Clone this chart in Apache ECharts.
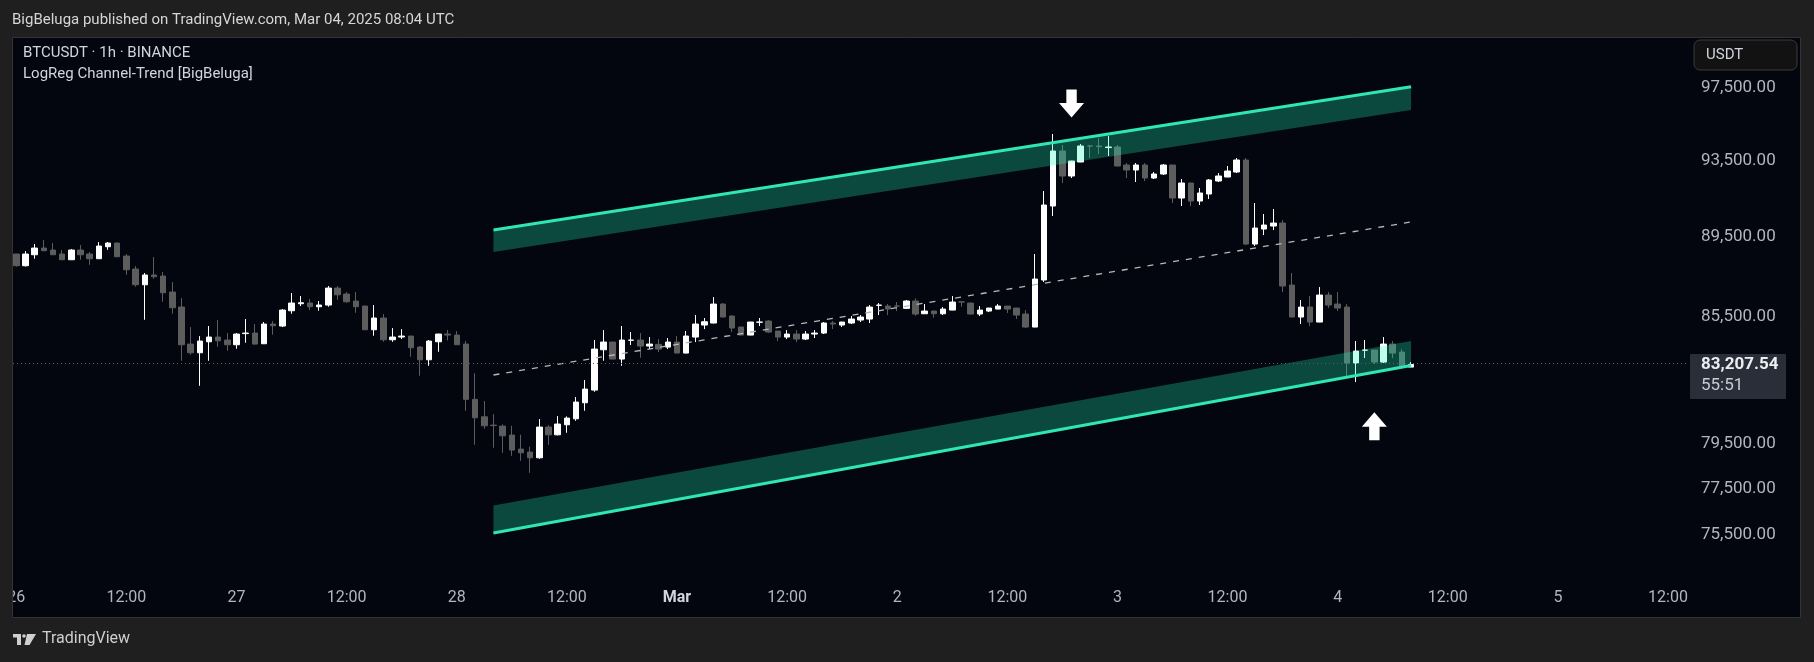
<!DOCTYPE html>
<html>
<head>
<meta charset="utf-8">
<title>BTCUSDT 1h - LogReg Channel-Trend</title>
<script src="https://cdn.jsdelivr.net/npm/echarts@6/dist/echarts.min.js"></script>
<style>
  html, body { margin: 0; padding: 0; background: #1f1f1f; }
  #chart { width: 1814px; height: 662px; }
</style>
</head>
<body>
<div id="chart"></div>
<script>
// hourly candles, first one is Feb 26 00:00 UTC
const opens = [88635,88044,88599,88939,88837,88635,88346,88837,88635,88397,89006,89194,88533,87877,87091,87577,87526,86728,85987,84185,
  83768,84296,84524,84378,84152,84690,84717,84200,85155,85058,85805,86150,86184,86002,86085,86926,86629,86283,86035,84878,
  85448,84393,84524,84572,84040,83432,84296,84669,84620,84185,81564,80755,80370,80326,79914,79276,79141,78883,80281,79927,
  80387,80663,81405,81998,83911,84282,83466,84370,84378,84089,84170,84040,84282,83753,84524,85106,85204,86134,85546,85009,
  84620,85245,85301,84814,84524,84669,84426,84669,84717,85204,85106,85204,85350,85399,86070,86035,86040,85922,86283,85658,
  85790,85658,85839,86240,86184,85643,85790,85888,86035,85937,85643,85009,87326,91103,94016,92681,93426,94290,94286,94200,
  94232,93266,92999,93266,92575,92787,93266,91521,92310,91363,91731,92416,92628,92893,93533,89143,89911,90066,90221,87076,
  85497,85986,85252,86579,86134,85986,83275,83890,83897,83323,84185,83801,83084];
const closes = [88044,88635,88939,88802,88599,88346,88837,88599,88397,89041,89194,88498,87842,87091,87577,87492,86693,85952,84152,83768,
  84330,84524,84344,84152,84669,84717,84185,85155,85072,85839,86184,86199,86002,86085,86926,86594,86248,86002,84878,85448,
  84393,84524,84572,84007,83432,84330,84669,84620,84152,81564,80709,80340,80350,79882,79231,79109,78883,80281,79927,80420,
  80695,81438,82045,83945,84282,83466,84378,84378,84089,84185,83945,84282,83753,84572,85155,85267,86134,85497,84960,84620,
  85252,85252,84765,84524,84669,84426,84669,84717,85204,85155,85252,85399,85497,85986,86085,85888,86035,86283,85643,85790,
  85658,85888,86233,86233,85643,85839,85937,86035,85888,85594,85009,87376,91155,94016,92681,93480,94286,94286,94250,94232,
  93212,92999,93266,92575,92787,93266,91521,92310,91363,91784,92469,92681,92946,93533,89143,89963,90118,90221,87026,85497,
  85986,85252,86579,86085,85937,83275,83849,83897,83323,84185,83753,83084,83207.54];
const lows = [88000,88000,88397,88780,88590,88340,88340,88346,88094,88390,88850,88480,87592,86991,85365,87392,86248,85658,83385,83672,
  82200,83385,84055,83863,83960,84248,84152,84190,84635,85009,85658,86035,85839,85805,86002,86347,86199,85707,84860,84587,
  84296,84296,84426,83576,82672,83147,83815,84363,84140,81033,79472,80203,79335,79109,78973,78748,78208,78838,79472,79900,
  80020,80570,81033,81918,83385,83460,83147,84137,83530,83945,83801,83945,83740,83740,84282,84911,85190,85490,84765,84610,
  84610,85058,84717,84330,84426,84282,84378,84475,84669,84911,85009,85155,85252,85204,85594,85594,85790,85900,85560,85650,
  85462,85594,85830,86002,85630,85545,85740,85880,85692,85399,84960,85000,87226,90583,92310,92575,93420,93640,93855,93748,
  93200,92575,92363,92416,92522,92733,91258,91103,91103,91155,91468,92363,92620,92840,89092,89041,89603,89860,86728,85490,
  85155,85058,85245,85937,85790,82610,82375,83514,83228,83275,83514,83080,83084];
const highs = [88650,88786,89143,89347,89194,88837,88888,89092,88736,89245,89245,89210,88635,88028,87677,88482,87727,87226,86431,85009,
  84570,85058,85350,84717,84717,85399,85155,85252,85301,85888,86678,86530,86381,86283,87026,87026,86728,86728,86050,86085,
  85643,84960,84911,84580,84088,84378,84680,84863,84814,84330,82786,81485,80880,80405,80340,79928,79381,80649,80372,80788,
  80774,81671,82469,84378,84863,84290,85058,84765,84717,84524,84426,84475,84572,84814,85594,85448,86480,86184,85594,85020,
  85260,85448,85350,84820,84863,84863,84814,84863,85252,85301,85260,85545,85594,86085,86184,86134,86233,86332,86414,86134,
  85800,85986,86530,86283,86200,86035,85945,86134,86040,85945,85839,88635,91889,94936,94340,93490,94394,94340,94718,94827,
  94340,93373,93373,93373,92893,93320,93270,92522,92320,92046,92522,92840,93212,93640,93640,91260,90687,90947,90376,87677,
  86332,86530,86976,86728,86728,86134,84330,84378,83900,84524,84330,83945,83323];
const lastPrice = 83207.54;
const countdown = '55:51';

// time scale: hours after Feb 26 00:00 UTC
const tickHours = [0, 12, 24, 36, 48, 60, 72, 84, 96, 108, 120, 132, 144, 156, 168, 180];
const tickLabels = ['26', '12:00', '27', '12:00', '28', '12:00', 'Mar', '12:00', '2', '12:00', '3', '12:00', '4', '12:00', '5', '12:00'];
const priceTicks = [97500, 93500, 89500, 85500, 79500, 77500, 75500];

// LogReg channel, from hour 52 to hour 152
const channelHours = [52, 152];
const upperLine = [89862, 97533];
const upperInner = [88739, 96248];
const midLine = [82709, 90274];
const lowerInner = [76754, 84333];
const lowerLine = [75560, 83155];

// signal arrows [hour, price]
const sellSignal = [115, 96606];
const buySignal = [148, 80322];

const FONT = 'Roboto, "Noto Sans", sans-serif';
const ln = Math.log;
const fmt = new Intl.NumberFormat('en-US', { minimumFractionDigits: 2, maximumFractionDigits: 2 });

const candles = opens.map((o, i) => [i, ln(o), ln(closes[i]), ln(lows[i]), ln(highs[i])]);
const bands = [[upperLine, upperInner], [lowerLine, lowerInner]];
const seg = (arr) => channelHours.map((h, i) => [h, ln(arr[i])]);

const chart = echarts.init(document.getElementById('chart'));

const option = {
  animation: false,
  backgroundColor: '#1f1f1f',
  textStyle: { fontFamily: FONT },
  grid: { left: 13, right: 126, top: 38, bottom: 82 },
  xAxis: {
    type: 'value',
    min: -0.36,
    max: 182.18,
    axisLine: { show: false },
    axisTick: { show: false },
    splitLine: { show: false },
    axisLabel: {
      customValues: tickHours,
      margin: 10,
      color: '#b2b5be',
      fontSize: 16,
      fontFamily: FONT,
      formatter: function (v) {
        const s = tickLabels[tickHours.indexOf(v)] || '';
        return s === 'Mar' ? '{b|' + s + '}' : s;
      },
      rich: { b: { fontWeight: 'bold', color: '#d1d4dc', fontSize: 16, fontFamily: FONT } }
    }
  },
  yAxis: {
    type: 'value',
    position: 'right',
    min: ln(73556),
    max: ln(100295),
    axisLine: { show: false },
    axisTick: { show: false },
    splitLine: { show: false },
    axisLabel: {
      customValues: priceTicks.map(ln),
      margin: 13,
      align: 'left',
      color: '#b2b5be',
      fontSize: 17,
      fontFamily: FONT,
      formatter: (v) => fmt.format(Math.exp(v))
    }
  },
  series: [
    {
      type: 'candlestick',
      data: candles,
      barWidth: 6,
      z: 2,
      itemStyle: {
        color: '#ffffff',
        color0: '#5d5d5d',
        borderColor: '#ffffff',
        borderColor0: '#5d5d5d',
        borderWidth: 1
      },
      markLine: {
        silent: true,
        symbol: ['none', 'none'],
        label: { show: false },
        lineStyle: { type: [1, 3], color: '#5a5e68', width: 1 },
        data: [{ yAxis: ln(lastPrice) }]
      }
    },
    {
      // translucent channel bands drawn over the candles
      type: 'custom',
      z: 3,
      data: [[0], [1]],
      renderItem: function (params, api) {
        const b = bands[api.value(0)];
        const pts = [
          api.coord([channelHours[0], ln(b[0][0])]),
          api.coord([channelHours[1], ln(b[0][1])]),
          api.coord([channelHours[1], ln(b[1][1])]),
          api.coord([channelHours[0], ln(b[1][0])])
        ];
        return { type: 'polygon', shape: { points: pts }, style: { fill: 'rgba(32,248,185,0.28)' } };
      }
    },
    {
      type: 'line', z: 4, symbol: 'none', data: seg(upperLine),
      lineStyle: { color: '#2fe6b6', width: 3 }
    },
    {
      type: 'line', z: 4, symbol: 'none', data: seg(lowerLine),
      lineStyle: { color: '#2fe6b6', width: 3 }
    },
    {
      type: 'line', z: 4, symbol: 'none', data: seg(midLine),
      lineStyle: { color: '#b8b8b8', width: 1.3, type: [6, 7] }
    },
    {
      type: 'scatter', z: 5,
      symbol: 'path://M7,0 L17,0 L17,13 L24,13 L12,27 L0,13 L7,13 Z',
      symbolSize: [25, 28],
      itemStyle: { color: '#ffffff', opacity: 1 },
      data: [[sellSignal[0], ln(sellSignal[1])]]
    },
    {
      type: 'scatter', z: 5,
      symbol: 'path://M12,0 L24,14 L17,14 L17,27 L7,27 L7,14 L0,14 Z',
      symbolSize: [25, 28],
      itemStyle: { color: '#ffffff', opacity: 1 },
      data: [[buySignal[0], ln(buySignal[1])]]
    }
  ]
};

chart.setOption(option);

// frame, titles and the last-price tag
const py = chart.convertToPixel({ yAxisIndex: 0 }, ln(lastPrice));
chart.setOption({
  graphic: [
    { type: 'rect', z: 0, shape: { x: 13, y: 38, width: 1787, height: 579 }, style: { fill: '#03060f' } },
    { type: 'rect', z: 100, shape: { x: 0, y: 570, width: 12.5, height: 60 }, style: { fill: '#1f1f1f' } },
    { type: 'rect', z: 101, shape: { x: 12.5, y: 37.5, width: 1788, height: 580 }, style: { fill: 'none', stroke: '#333333', lineWidth: 1 } },
    { type: 'text', z: 101, x: 12, y: 20, style: { text: 'BigBeluga published on TradingView.com, Mar 04, 2025 08:04 UTC', fill: '#d6d6d6', font: '15px ' + FONT, verticalAlign: 'middle' } },
    { type: 'text', z: 101, x: 23, y: 53, style: { text: 'BTCUSDT · 1h · BINANCE', fill: '#d1d4dc', font: '15px ' + FONT, verticalAlign: 'middle' } },
    { type: 'text', z: 101, x: 23, y: 74, style: { text: 'LogReg Channel-Trend [BigBeluga]', fill: '#d1d4dc', font: '15px ' + FONT, verticalAlign: 'middle' } },
    { type: 'rect', z: 101, shape: { x: 1694, y: 40, width: 103, height: 30, r: 6 }, style: { fill: '#121212', stroke: '#3a3a3a', lineWidth: 1 } },
    { type: 'text', z: 102, x: 1706, y: 55, style: { text: 'USDT', fill: '#d1d4dc', font: '15px ' + FONT, verticalAlign: 'middle' } },
    { type: 'rect', z: 101, shape: { x: 1690, y: py - 10.5, width: 96, height: 45, r: 1 }, style: { fill: '#2a2e39' } },
    { type: 'text', z: 102, x: 1701, y: py, style: { text: fmt.format(lastPrice), fill: '#eceef2', font: 'bold 17px ' + FONT, verticalAlign: 'middle' } },
    { type: 'text', z: 102, x: 1701, y: py + 21, style: { text: countdown, fill: '#c9cbd1', font: '17px ' + FONT, verticalAlign: 'middle' } },
    // TradingView footer mark
    { type: 'polygon', z: 101, shape: { points: [[13, 634], [21, 634], [21, 645], [17, 645], [17, 637.5], [13, 637.5]] }, style: { fill: '#d0d0d0' } },
    { type: 'circle', z: 101, shape: { cx: 24, cy: 636, r: 1.8 }, style: { fill: '#d0d0d0' } },
    { type: 'polygon', z: 101, shape: { points: [[27, 634], [36, 634], [29.5, 645], [24.5, 645]] }, style: { fill: '#d0d0d0' } },
    { type: 'text', z: 101, x: 42, y: 639, style: { text: 'TradingView', fill: '#cfcfcf', font: '16px ' + FONT, verticalAlign: 'middle' } }
  ]
});
</script>
</body>
</html>
